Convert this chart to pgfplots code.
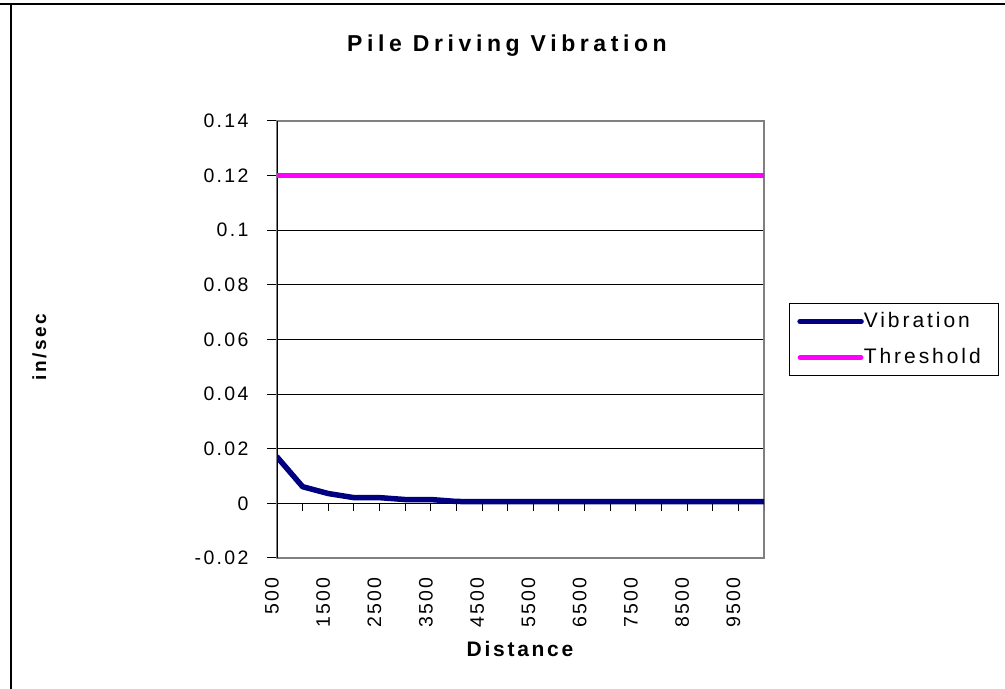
\documentclass[border=0pt]{standalone}
\usepackage{pgfplots}
\pgfplotsset{compat=1.18}
\usepackage{pgfplotstable}
\usepackage{fontspec}
\setmainfont{Liberation Sans}
\newfontfamily\tickfont[LetterSpace=12]{Liberation Sans}
\newfontfamily\legfont[LetterSpace=14]{Liberation Sans}
\newfontfamily\titlefont[LetterSpace=20]{Liberation Sans}
\newfontfamily\labfont[LetterSpace=13]{Liberation Sans}
\definecolor{vib}{RGB}{0,0,128}
\definecolor{thr}{RGB}{255,0,255}
\definecolor{bord}{RGB}{128,128,128}

\pgfplotstableread{
x vib thr
500 0.0170 0.12
1000 0.0061 0.12
1500 0.0036 0.12
2000 0.0021 0.12
2500 0.0021 0.12
3000 0.0014 0.12
3500 0.0014 0.12
4000 0.0007 0.12
4500 0.0006 0.12
5000 0.0006 0.12
5500 0.0006 0.12
6000 0.0006 0.12
6500 0.0006 0.12
7000 0.0006 0.12
7500 0.0006 0.12
8000 0.0006 0.12
8500 0.0006 0.12
9000 0.0006 0.12
9500 0.0006 0.12
10000 0.0006 0.12
}\data

\begin{document}
\begin{tikzpicture}[x=1bp,y=1bp]
\path[use as bounding box] (0,0) rectangle (1005,689);
\draw[black, line width=2bp] (0,684.7) -- (1005,684.7);
\draw[black, line width=2bp] (10.7,0) -- (10.7,684.7);
\node[anchor=base, font=\titlefont\bfseries\fontsize{23bp}{26bp}\selectfont] at (507,637.3) {Pile Driving Vibration};
\node[anchor=base, font=\labfont\bfseries\fontsize{21bp}{24bp}\selectfont] at (520,32) {Distance};
\node[anchor=base, rotate=90, font=\labfont\bfseries\fontsize{19bp}{22bp}\selectfont] at (46,342) {in/sec};
\begin{axis}[
  at={(277bp,131bp)}, anchor=south west, scale only axis,
  width=487bp, height=437bp,
  xmin=500, xmax=10000, ymin=-0.02, ymax=0.14,
  scaled x ticks=false, scaled y ticks=false,
  xtick={500,1500,2500,3500,4500,5500,6500,7500,8500,9500},
  xticklabels={500,1500,2500,3500,4500,5500,6500,7500,8500,9500},
  x tick style={draw=none},
  ytick={-0.02,0,0.02,0.04,0.06,0.08,0.1,0.12,0.14},
  yticklabels={-0.02,0,0.02,0.04,0.06,0.08,0.1,0.12,0.14},
  ytick pos=left, tick align=outside, major tick length=10bp,
  y tick style={black, line width=1bp},
  ymajorgrids, grid style={black, line width=0.9bp},
  axis line style={bord, line width=1.6bp},
  yticklabel style={font=\tickfont\fontsize{19.5bp}{22bp}\selectfont, xshift=-15bp},
  xticklabel style={font=\tickfont\fontsize{19.5bp}{22bp}\selectfont, rotate=90, anchor=east, yshift=5bp, xshift=-6bp},
  legend style={at={(1.051,0.5835)}, anchor=north west, draw=black, line width=1bp,
    fill=white, inner xsep=8bp, inner ysep=9bp, row sep=18bp,
    font=\legfont\fontsize{21bp}{24bp}\selectfont,
    nodes={inner sep=0bp, text height=15bp, text depth=3bp},
    /tikz/every even column/.append style={column sep=5bp}},
  legend cell align=left,
  legend image code/.code={\draw[#1] (0bp,0bp) -- (61bp,0bp);},
]
\draw[black, line width=1.3bp] (axis cs:500,-0.02) -- (axis cs:500,0.14);
\draw[black, line width=1bp] (axis cs:500,0) -- (axis cs:10000,0);
\pgfplotsinvokeforeach{500,1000,1500,2000,2500,3000,3500,4000,4500,5000,5500,6000,6500,7000,7500,8000,8500,9000,9500,10000}{
  \draw[black, line width=1bp] (axis cs:#1,0) -- ([yshift=-8bp]axis cs:#1,0);
}
\addplot[vib, line width=5.5bp, line join=round, line cap=round] table[x=x,y=vib]{\data};
\addlegendentry{Vibration}
\addplot[thr, line width=4.7bp, line join=round, line cap=round] table[x=x,y=thr]{\data};
\addlegendentry{Threshold\hspace*{10bp}}
\end{axis}
\end{tikzpicture}
\end{document}
